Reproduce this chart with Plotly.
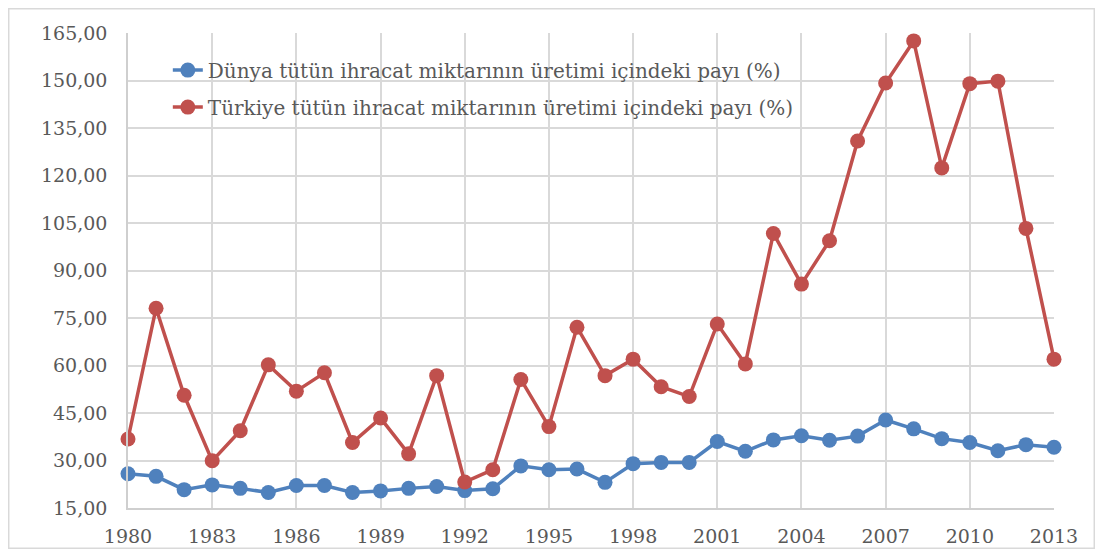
import plotly.graph_objects as go

years = list(range(1980, 2014))
dunya = [25.8, 25.0, 20.8, 22.3, 21.2, 19.9, 22.1, 22.1, 19.9, 20.4,
         21.2, 21.8, 20.5, 21.1, 28.3, 27.1, 27.3, 23.1, 29.0, 29.4,
         29.4, 36.0, 32.9, 36.5, 37.8, 36.4, 37.7, 42.8, 40.0, 36.9,
         35.7, 33.1, 35.0, 34.2]
turkiye = [36.8, 78.1, 50.6, 29.9, 39.4, 60.2, 51.9, 57.7, 35.7, 43.4,
           32.1, 56.8, 23.2, 27.1, 55.6, 40.7, 72.1, 56.8, 62.0, 53.3,
           50.2, 73.1, 60.5, 101.7, 85.7, 99.4, 130.9, 149.2, 162.5, 122.4,
           149.0, 149.8, 103.3, 62.0]
name_dunya = "Dünya tütün ihracat miktarının üretimi içindeki payı (%)"
name_turkiye = "Türkiye tütün ihracat miktarının üretimi içindeki payı (%)"
x_ticks = list(range(1980, 2014, 3))
y_ticks = list(range(15, 166, 15))

FONT = "DejaVu Serif"
TXT = "#595959"

fig = go.Figure()
fig.add_trace(go.Scatter(x=years, y=dunya, name=name_dunya, mode="lines+markers",
                         line=dict(color="#4f81bd", width=3.5),
                         marker=dict(color="#4f81bd", size=15),
                         cliponaxis=False, legendgroup="a"))
fig.add_trace(go.Scatter(x=years, y=turkiye, name=name_turkiye, mode="lines+markers",
                         line=dict(color="#c0504d", width=3.5),
                         marker=dict(color="#c0504d", size=15),
                         cliponaxis=False, legendgroup="b"))

fig.update_layout(
    width=1087, height=541,
    margin=dict(l=120, r=41, t=25, b=41),
    paper_bgcolor="white", plot_bgcolor="white",
    separators=",.",
    font=dict(family=FONT, size=19, color=TXT),
    showlegend=True,
    legend=dict(x=0.043, y=0.963, xanchor="left", yanchor="top",
                bgcolor="rgba(0,0,0,0)", font=dict(family=FONT, size=20, color=TXT),
                traceorder="grouped", tracegroupgap=8),
    xaxis=dict(range=[1980, 2013], tickvals=x_ticks, showgrid=True, automargin=False,
               gridcolor="#d9d9d9", gridwidth=1.5, showline=True, linecolor="#cfcfcf",
               linewidth=1.5, zeroline=False, ticks="", ticklen=0, ticklabelstandoff=10,
               tickfont=dict(family=FONT, size=19, color=TXT)),
    yaxis=dict(range=[15, 165], tickvals=y_ticks, tickformat=".2f", showgrid=True,
               automargin=False,
               gridcolor="#d9d9d9", gridwidth=1.5, showline=True, linecolor="#cfcfcf",
               linewidth=1.5, zeroline=False, ticks="", ticklabelstandoff=15,
               tickfont=dict(family=FONT, size=19, color=TXT)),
    shapes=[dict(type="rect", xref="paper", yref="paper",
                 x0=-0.1288, x1=1.0435, y0=-0.0847, y1=1.0511,
                 line=dict(color="#d9d9d9", width=1.5), fillcolor="rgba(0,0,0,0)")],
)

fig.write_html("out.html")
